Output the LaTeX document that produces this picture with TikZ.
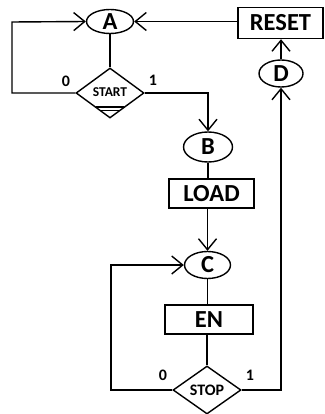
\documentclass[tikz,border=0pt]{standalone}
\usepackage{fontspec}
\setmainfont{Carlito}
\usetikzlibrary{shapes.geometric,arrows.meta,calc}
\begin{document}
\begin{tikzpicture}[x=1pt,y=-1pt,
  line width=1.4pt,
  every node/.style={font=\bfseries\fontsize{24.5}{24.5}\selectfont, inner sep=0pt},
  oval/.style={draw, ellipse, minimum width=47pt},
  boxnode/.style={draw, rectangle, minimum height=30pt},
  dia/.style={draw, diamond, minimum width=68pt, minimum height=50pt, font=\bfseries\fontsize{13.5}{13.5}\selectfont},
  lbl/.style={font=\bfseries\fontsize{16}{16}\selectfont},
  arr/.style={-{Straight Barb[length=11pt,width=18pt,line width=1.4pt]}}
]
\useasboundingbox (0,0) rectangle (324,414);
% nodes
\node[oval, minimum height=24pt] (A) at (110,21.5) {A};
\node[boxnode, minimum width=85pt, minimum height=31pt] (reset) at (280.5,23) {RESET};
\node[oval, minimum width=44pt, minimum height=27pt] (D) at (281,73.5) {D};
\node[dia] (start) at (110,93) {\raisebox{1.5pt}{START}};
\node[oval, minimum width=49pt, minimum height=30pt] (B) at (208,147) {B};
\node[boxnode, minimum width=85pt, minimum height=29pt] (load) at (211.5,193.5) {LOAD};
\node[oval, minimum width=46pt, minimum height=27pt] (C) at (207.5,265) {C};
\node[boxnode, minimum width=88pt, minimum height=29pt] (en) at (209,319.5) {EN};
\node[dia, minimum height=48pt, font=\bfseries\fontsize{16}{16}\selectfont] (stop) at (207,390) {STOP};
% labels
\node[lbl] (l0a) at (66,81) {0};
\node[lbl] (l1a) at (153,80) {1};
\node[lbl] (l0b) at (163,375) {0};
\node[lbl] (l1b) at (250,375) {1};
% START bottom double line
\draw[line width=1.2pt] (96,107) -- (124,107);
\draw[line width=1.2pt] (100.5,110.5) -- (119.5,110.5);
% connectors
\draw[arr] (reset.west |- A.east) -- (A.east);
\draw[arr] (D.north) -- (D.north |- reset.south);
\draw (A.south) -- (start.north);
\draw[arr] (start.west) -- (12,93) -- (12,22) -- (A.west);
\draw[arr] (start.east) -- (208,93) -- (B.north);
\draw (B.south) -- (B.south |- load.north);
\draw[arr] (load.south -| C.north) -- (C.north);
\draw (C.south) -- (C.south |- en.north);
\draw (en.south -| stop.north) -- (stop.north);
\draw[arr] (stop.west) -- (111,390) -- (111,265) -- (C.west);
\draw[arr] (stop.east) -- (281,390) -- (D.south);
\end{tikzpicture}
\end{document}
